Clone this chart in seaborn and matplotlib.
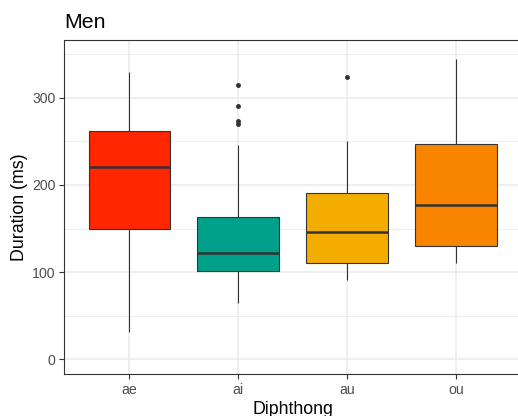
import matplotlib
matplotlib.use('Agg')
import matplotlib.pyplot as plt
import seaborn as sns
import pandas as pd
from matplotlib.ticker import MultipleLocator, FixedLocator

# ---- data ----
diphthongs = ['ae', 'ai', 'au', 'ou']
ae_ms = [31, 150, 221, 262, 330]
ai_ms = [64, 75, 82, 90, 96, 101, 106, 110, 114, 118, 122, 130, 140, 150,
         158, 163, 246, 270, 274, 291, 315]
au_ms = [91, 100, 110, 130, 146, 170, 191, 250, 324]
ou_ms = [110, 130, 177, 247, 345]
box_colors = ['#FF2600', '#00A08A', '#F2AD00', '#F98400']
y_ticks = [0, 100, 200, 300]
title = 'Men'
x_label = 'Diphthong'
y_label = 'Duration (ms)'

values = {'ae': ae_ms, 'ai': ai_ms, 'au': au_ms, 'ou': ou_ms}
df = pd.DataFrame([(d, v) for d in diphthongs for v in values[d]],
                  columns=['Diphthong', 'Duration'])

sns.set_style('white')
plt.rcParams['font.family'] = ['Liberation Sans', 'DejaVu Sans']

fig = plt.figure(figsize=(5.18, 4.16), dpi=100)
ax = fig.add_axes([64 / 518, 42 / 416, (521.4 - 64) / 518, (374 - 39.5) / 416])

edge = '#333333'
sns.boxplot(data=df, x='Diphthong', y='Duration', hue='Diphthong',
            order=diphthongs, hue_order=diphthongs,
            palette=dict(zip(diphthongs, box_colors)), legend=False,
            width=0.75, whis=1.5, linewidth=0.8, linecolor=edge,
            showcaps=False, saturation=1, ax=ax,
            boxprops={'edgecolor': edge, 'linewidth': 0.8},
            whiskerprops={'color': edge, 'linewidth': 0.8},
            medianprops={'color': edge, 'linewidth': 1.8},
            flierprops={'marker': 'o', 'markerfacecolor': edge,
                        'markeredgecolor': edge, 'markersize': 3.0,
                        'markeredgewidth': 0.5, 'linestyle': 'none'})

ax.set_xlim(-0.6, 3.6)
ax.set_ylim(-17.2, 367.2)
ax.yaxis.set_major_locator(FixedLocator(y_ticks))
ax.yaxis.set_minor_locator(MultipleLocator(50))
ax.set_axisbelow(True)
ax.grid(which='major', axis='both', color='#EBEBEB', linewidth=1.1)
ax.grid(which='minor', axis='y', color='#EBEBEB', linewidth=0.55)
ax.tick_params(which='minor', length=0)
ax.tick_params(which='major', length=3.6, width=0.8, color=edge,
               labelsize=10.2, labelcolor='#4D4D4D', pad=2.6,
               left=True, bottom=True)
for s in ax.spines.values():
    s.set_visible(True)
    s.set_color(edge)
    s.set_linewidth(0.8)

ax.set_xlabel(x_label, fontsize=12.8, color='black', labelpad=3)
ax.set_ylabel(y_label, fontsize=12.8, color='black', labelpad=3)
ax.set_title(title, loc='left', fontsize=15.4, color='black', pad=8)

fig.savefig('out.png', dpi=100)
